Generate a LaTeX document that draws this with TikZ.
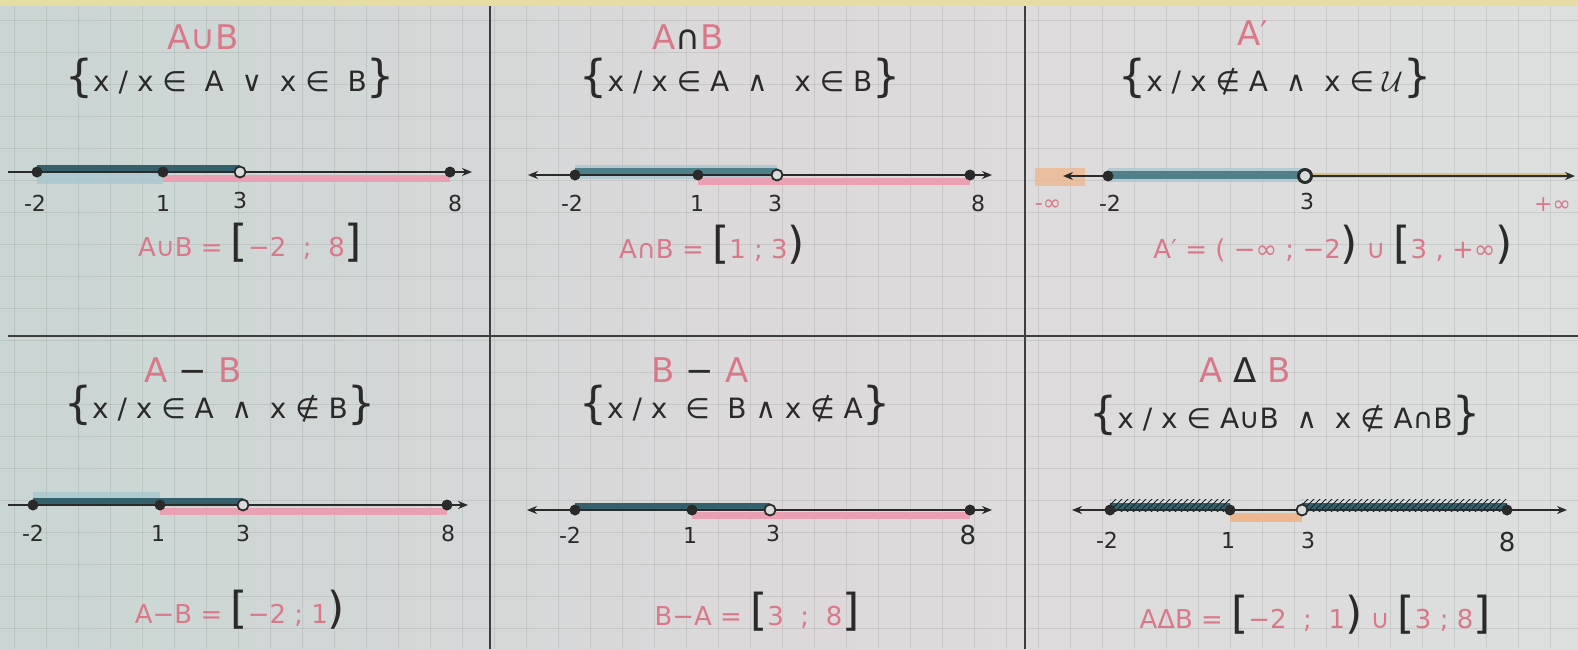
\documentclass[tikz,border=0pt]{standalone}
\usepackage{fontspec}
\setmainfont{DejaVu Sans}
\usetikzlibrary{arrows.meta,patterns}
\definecolor{paper}{HTML}{D9DCDB}
\definecolor{paperL}{HTML}{C9D6D3}
\definecolor{paperM}{HTML}{DDD9DB}
\definecolor{paperR}{HTML}{DCDFDD}
\definecolor{ink}{HTML}{2A2A2A}
\definecolor{pinktxt}{HTML}{D8798A}
\definecolor{bandteal}{HTML}{34606B}
\definecolor{lightteal}{HTML}{4F808A}
\definecolor{glowblue}{HTML}{A9C7CF}
\definecolor{pinkband}{HTML}{E9A0B2}
\definecolor{orangeb}{HTML}{ECB892}
\definecolor{yellowb}{HTML}{D9C284}
\definecolor{divider}{HTML}{3E3E3E}
\definecolor{topstrip}{HTML}{E6DCA6}
\newcommand\bigbk[1]{{\color{ink}\fontsize{22}{22}\selectfont #1}}
\newcommand\bigbr[1]{{\fontsize{22}{22}\selectfont #1}}
\begin{document}
\begin{tikzpicture}[x=0.5pt,y=-0.5pt,
  axisline/.style={draw=ink, line width=1pt},
  fdot/.style={circle, fill=ink, inner sep=0pt, minimum size=5.5pt},
  odot/.style={circle, draw=ink, fill=paper, line width=0.9pt, inner sep=0pt, minimum size=5.5pt},
  numlab/.style={text=ink, font=\fontsize{11}{13}\selectfont},
  titletxt/.style={text=pinktxt, font=\fontsize{17}{20}\selectfont},
  settxt/.style={text=ink, font=\fontsize{14}{17}\selectfont},
  restxt/.style={text=pinktxt, font=\fontsize{13}{16}\selectfont},
  tealband/.style={draw=bandteal, line width=4pt},
  glowband/.style={draw=glowblue, line width=7pt, opacity=0.8},
  pinkstripe/.style={draw=pinkband, line width=3.5pt},
  divline/.style={draw=divider, line width=1.4pt},
  gridline/.style={draw=black, opacity=0.08, line width=0.5pt},
  arr/.style={-{Stealth[length=5pt,width=4pt]}},
  arrboth/.style={{Stealth[length=5pt,width=4pt]}-{Stealth[length=5pt,width=4pt]}}
]
\useasboundingbox (0,0) rectangle (1578,649);
\shade[left color=paperL, right color=paperR, middle color=paperM] (0,0) rectangle (1578,649);
\fill[topstrip] (0,0) rectangle (1578,6);
\foreach \i in {14,46,...,1578} \draw[gridline] (\i,6) -- (\i,649);
\foreach \j in {20,52,...,649} \draw[gridline] (0,\j) -- (1578,\j);
% dividers
\draw[divline] (490,6) -- (490,649);
\draw[divline] (1025,6) -- (1025,649);
\draw[divline] (8,336) -- (1578,336);

% ---------- Panel 1: A U B ----------
\node[titletxt] (t1) at (203,37) {A∪B};
\node[settxt] (s1) at (230,78) {\bigbr{\{}x / x ∈ \ A \ ∨ \ x ∈ \ B\bigbr{\}}};
\coordinate (a1L) at (8,172);
\coordinate (a1R) at (472,172);
\draw[glowband] (37,177) -- (163,177);
\draw[tealband] (37,169) -- (240,169);
\draw[pinkstripe] (163,178) -- (450,178);
\draw[axisline,arr] (a1L) -- (a1R);
\node[fdot] (d1a) at (37,172) {};
\node[fdot] (d1b) at (163,172) {};
\node[odot] (d1c) at (240,172) {};
\node[fdot] (d1d) at (450,172) {};
\node[numlab] (l1a) at (35,203) {-2};
\node[numlab] (l1b) at (163,203) {1};
\node[numlab] (l1c) at (240,200) {3};
\node[numlab] (l1d) at (455,203) {8};
\node[restxt] (r1) at (250,243) {A∪B = \bigbk{[}−2 \ ; \ 8\bigbk{]}};

% ---------- Panel 2: A n B ----------
\node[titletxt] (t2) at (688,37) {A{\color{ink}∩}B};
\node[settxt] (s2) at (740,78) {\bigbr{\{}x / x ∈ A \ ∧ \ \ x ∈ B\bigbr{\}}};
\coordinate (a2L) at (528,175);
\coordinate (a2R) at (992,175);
\draw[glowband] (575,172) -- (777,172);
\draw[draw=lightteal, line width=4pt] (575,172) -- (777,172);
\draw[pinkstripe] (698,181) -- (970,181);
\draw[axisline,arrboth] (a2L) -- (a2R);
\node[fdot] (d2a) at (575,175) {};
\node[fdot] (d2b) at (698,175) {};
\node[odot] (d2c) at (777,175) {};
\node[fdot] (d2d) at (970,175) {};
\node[numlab] (l2a) at (572,203) {-2};
\node[numlab] (l2b) at (697,203) {1};
\node[numlab] (l2c) at (775,203) {3};
\node[numlab] (l2d) at (978,203) {8};
\node[restxt] (r2) at (712,245) {A∩B = \bigbk{[}1 ; 3\bigbk{)}};

% ---------- Panel 3: A' ----------
\node[titletxt] (t3) at (1253,33) {A′};
\node[settxt] (s3) at (1275,78) {\bigbr{\{}x / x ∉ A \ ∧ \ x ∈ $\mathcal{U}$\bigbr{\}}};
\coordinate (a3L) at (1063,176);
\coordinate (a3R) at (1575,176);
\fill[orangeb, opacity=0.8] (1035,168) rectangle (1085,186);
\draw[glowband] (1108,175) -- (1305,175);
\draw[draw=lightteal, line width=4pt] (1108,175) -- (1305,175);
\draw[draw=yellowb, line width=2.5pt] (1305,175) -- (1570,175);
\draw[axisline,arr] (1305,176) -- (a3R);
\draw[axisline,arr] (1108,176) -- (a3L);
\node[fdot] (d3a) at (1108,176) {};
\node[odot, line width=1.5pt, minimum size=6.5pt] (d3b) at (1305,176) {};
\node[numlab, text=pinktxt] (l3a) at (1048,205) {-∞};
\node[numlab] (l3b) at (1110,203) {-2};
\node[numlab] (l3c) at (1307,201) {3};
\node[numlab, text=pinktxt, anchor=east] (l3d) at (1578,205) {+∞};
\node[restxt] (r3) at (1333,245) {A′ = ( −∞ ; −2{\color{ink}\bigbk{)}} ∪ \bigbk{[}3 , +∞\bigbk{)}};

% ---------- Panel 4: A - B ----------
\node[titletxt] (t4) at (193,370) {A {\color{ink}−} B};
\node[settxt] (s4) at (220,405) {\bigbr{\{}x / x ∈ A \ ∧ \ x ∉ B\bigbr{\}}};
\coordinate (a4L) at (8,505);
\coordinate (a4R) at (468,505);
\draw[glowband] (33,499) -- (160,499);
\draw[tealband] (33,502) -- (243,502);
\draw[pinkstripe] (160,511) -- (447,511);
\draw[axisline,arr] (a4L) -- (a4R);
\node[fdot] (d4a) at (33,505) {};
\node[fdot] (d4b) at (160,505) {};
\node[odot] (d4c) at (243,505) {};
\node[fdot] (d4d) at (447,505) {};
\node[numlab] (l4a) at (33,533) {-2};
\node[numlab] (l4b) at (158,533) {1};
\node[numlab] (l4c) at (243,533) {3};
\node[numlab] (l4d) at (448,533) {8};
\node[restxt] (r4) at (240,610) {A−B = \bigbk{[}−2 ; 1\bigbk{)}};

% ---------- Panel 5: B - A ----------
\node[titletxt] (t5) at (700,370) {B {\color{ink}−} A};
\node[settxt] (s5) at (735,405) {\bigbr{\{}x / x \ ∈ \ B ∧ x ∉ A\bigbr{\}}};
\coordinate (a5L) at (527,510);
\coordinate (a5R) at (992,510);
\draw[tealband] (575,507) -- (770,507);
\draw[pinkstripe] (692,515) -- (970,515);
\draw[axisline,arrboth] (a5L) -- (a5R);
\node[fdot] (d5a) at (575,510) {};
\node[fdot] (d5b) at (692,510) {};
\node[odot] (d5c) at (770,510) {};
\node[fdot] (d5d) at (970,510) {};
\node[numlab] (l5a) at (570,535) {-2};
\node[numlab] (l5b) at (690,535) {1};
\node[numlab] (l5c) at (773,533) {3};
\node[numlab, font=\fontsize{13}{15}\selectfont] (l5d) at (968,535) {8};
\node[restxt] (r5) at (757,612) {B−A = \bigbk{[}3 \ ; \ 8\bigbk{]}};

% ---------- Panel 6: A Delta B ----------
\node[titletxt] (t6) at (1245,370) {A {\color{ink}Δ} B};
\node[settxt] (s6) at (1285,415) {\bigbr{\{}x / x ∈ A∪B \ ∧ \ x ∉ A∩B\bigbr{\}}};
\coordinate (a6L) at (1072,510);
\coordinate (a6R) at (1567,510);
\draw[draw=orangeb, line width=4.5pt] (1230,517) -- (1302,517);
\fill[bandteal] (1110,503) rectangle (1230,511);
\fill[bandteal] (1302,503) rectangle (1507,511);
\fill[pattern=north east lines, pattern color=bandteal!40!black] (1110,499) rectangle (1230,511);
\fill[pattern=north east lines, pattern color=bandteal!40!black] (1302,499) rectangle (1507,511);
\draw[axisline,arrboth] (a6L) -- (a6R);
\node[fdot] (d6a) at (1110,510) {};
\node[fdot] (d6b) at (1230,510) {};
\node[odot] (d6c) at (1302,510) {};
\node[fdot] (d6d) at (1507,510) {};
\node[numlab] (l6a) at (1107,540) {-2};
\node[numlab] (l6b) at (1228,540) {1};
\node[numlab] (l6c) at (1308,540) {3};
\node[numlab, font=\fontsize{13}{15}\selectfont] (l6d) at (1507,542) {8};
\node[restxt] (r6) at (1315,615) {AΔB = \bigbk{[}−2 \ ; \ 1\bigbk{)} ∪ \bigbk{[}3 ; 8\bigbk{]}};
\end{tikzpicture}
\end{document}
